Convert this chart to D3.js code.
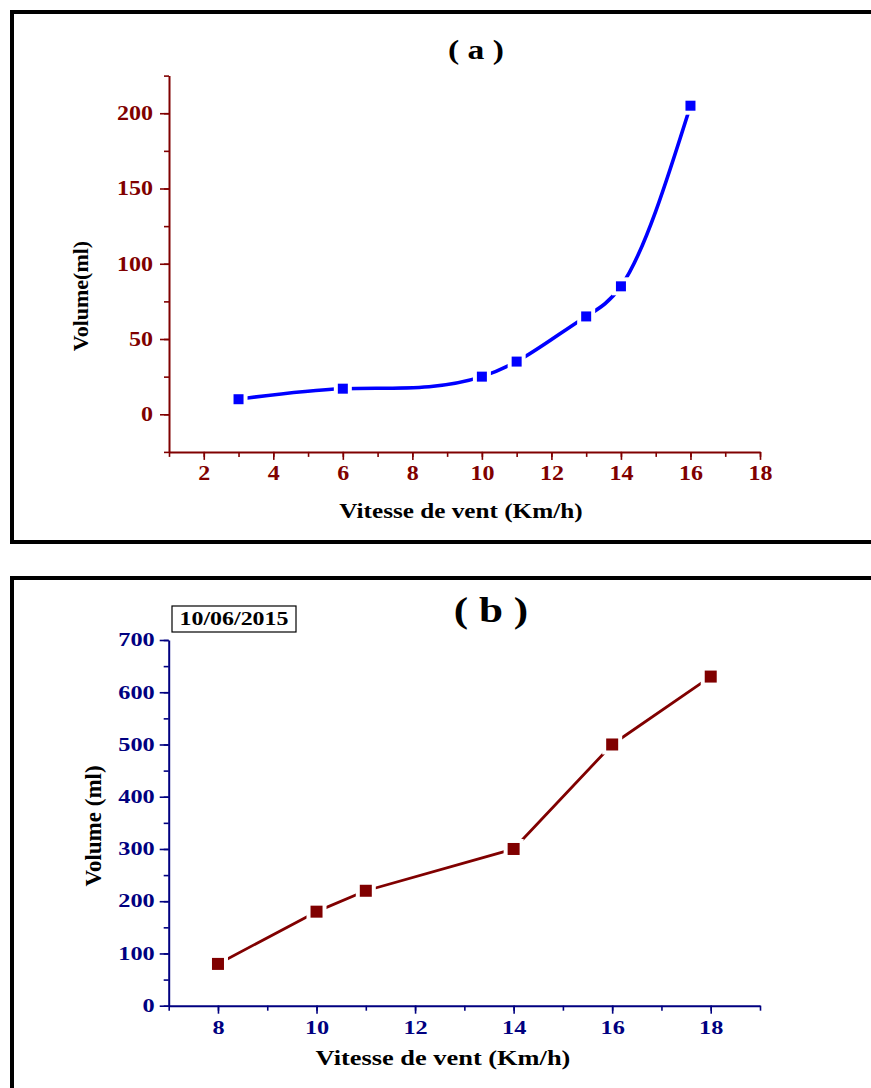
<!DOCTYPE html>
<html>
<head>
<meta charset="utf-8">
<script src="https://cdn.jsdelivr.net/npm/d3@7"></script>
<style>
  html, body { margin: 0; padding: 0; background: #fff; }
  svg { display: block; }
</style>
</head>
<body>
<svg id="fig" width="871" height="1088"></svg>
<script>
// Panel (a): volume vs wind speed, smooth curve
const aSpeed  = [3, 6, 10, 11, 13, 14, 16];
const aVolume = [10, 17, 25, 35, 65, 85, 205];
const aXTicks = [2, 4, 6, 8, 10, 12, 14, 16, 18];
const aYTicks = [0, 50, 100, 150, 200];

// Panel (b): volume vs wind speed, 10/06/2015
const bSpeed  = [8, 10, 11, 14, 16, 18];
const bVolume = [80, 180, 220, 300, 500, 630];
const bXTicks = [8, 10, 12, 14, 16, 18];
const bYTicks = [0, 100, 200, 300, 400, 500, 600, 700];

const FONT = "'Liberation Serif', 'Times New Roman', serif";
const svg = d3.select("#fig");

// natural cubic spline in data space (x as the parameter), emitted as Bezier segments
function splinePath(xs, ys, sx, sy) {
  const n = xs.length - 1;
  const h = d3.range(n).map(i => xs[i + 1] - xs[i]);
  const M = new Array(n + 1).fill(0);
  if (n > 1) {
    const a = [], b = [], c = [], d = [];
    for (let i = 1; i < n; i++) {
      a.push(h[i - 1]); b.push(2 * (h[i - 1] + h[i])); c.push(h[i]);
      d.push(6 * ((ys[i + 1] - ys[i]) / h[i] - (ys[i] - ys[i - 1]) / h[i - 1]));
    }
    const m = b.length;
    for (let i = 1; i < m; i++) {
      const w = a[i] / b[i - 1];
      b[i] -= w * c[i - 1]; d[i] -= w * d[i - 1];
    }
    const sol = new Array(m);
    sol[m - 1] = d[m - 1] / b[m - 1];
    for (let i = m - 2; i >= 0; i--) sol[i] = (d[i] - c[i] * sol[i + 1]) / b[i];
    for (let i = 0; i < m; i++) M[i + 1] = sol[i];
  }
  const p = d3.path();
  p.moveTo(sx(xs[0]), sy(ys[0]));
  for (let i = 0; i < n; i++) {
    const s = (ys[i + 1] - ys[i]) / h[i];
    const m0 = s - h[i] * (2 * M[i] + M[i + 1]) / 6;
    const m1 = s + h[i] * (M[i] + 2 * M[i + 1]) / 6;
    const t = h[i] / 3;
    p.bezierCurveTo(
      sx(xs[i] + t), sy(ys[i] + m0 * t),
      sx(xs[i + 1] - t), sy(ys[i + 1] - m1 * t),
      sx(xs[i + 1]), sy(ys[i + 1]));
  }
  return p.toString();
}

// text drawn with a horizontal stretch factor sx
function label(g, x, y, str, o) {
  const sx = o.sx || 1;
  return g.append("text")
    .attr("x", x / sx).attr("y", y)
    .attr("transform", `scale(${sx},1)`)
    .attr("font-family", FONT).attr("font-weight", "bold")
    .attr("font-size", o.size).attr("fill", o.fill || "#000")
    .attr("text-anchor", o.anchor || "middle")
    .attr("dominant-baseline", "central")
    .text(str);
}

function vlabel(g, x, y, str, o) {
  g.append("text")
    .attr("transform", `translate(${x},${y}) rotate(-90) scale(1,${o.sy || 1})`)
    .attr("font-family", FONT).attr("font-weight", "bold")
    .attr("font-size", o.size).attr("fill", "#000")
    .attr("text-anchor", "middle").attr("dominant-baseline", "central")
    .text(str);
}

function axes(g, x, y, o) {
  const [x0, x1] = x.domain();
  const [y0, y1] = y.domain();
  const xMinor = d3.range(x0, x1 + 0.001, o.xMinorStep);
  const yMinor = d3.range(y0, y1 + 0.001, o.yMinorStep);
  const yBase = y.range()[0], xBase = x.range()[0];

  // minor ticks
  g.append("g").attr("transform", `translate(0,${yBase})`)
    .call(d3.axisBottom(x).tickValues(xMinor).tickSize(5).tickFormat(""))
    .call(s => s.select(".domain").remove())
    .selectAll("line").attr("stroke", o.color).attr("stroke-width", 1.6);
  g.append("g").attr("transform", `translate(${xBase},0)`)
    .call(d3.axisLeft(y).tickValues(yMinor).tickSize(5).tickFormat(""))
    .call(s => s.select(".domain").remove())
    .selectAll("line").attr("stroke", o.color).attr("stroke-width", 1.6);

  // major ticks with labels
  const gx = g.append("g").attr("transform", `translate(0,${yBase})`)
    .call(d3.axisBottom(x).tickValues(o.xTicks).tickSize(8).tickSizeOuter(0).tickPadding(o.xPad));
  gx.select(".domain").attr("stroke", o.color).attr("stroke-width", 2);
  gx.selectAll("line").attr("stroke", o.color).attr("stroke-width", 1.6);
  gx.selectAll("text")
    .attr("font-family", FONT).attr("font-weight", "bold")
    .attr("font-size", o.tickSize).attr("fill", o.color)
    .attr("transform", `scale(${o.sx},1)`);

  const gy = g.append("g").attr("transform", `translate(${xBase},0)`)
    .call(d3.axisLeft(y).tickValues(o.yTicks).tickSize(9).tickSizeOuter(0).tickPadding(o.yPad));
  gy.select(".domain").attr("stroke", o.color).attr("stroke-width", 2);
  gy.selectAll("line").attr("stroke", o.color).attr("stroke-width", 1.6);
  gy.selectAll("text")
    .attr("font-family", FONT).attr("font-weight", "bold")
    .attr("font-size", o.tickSize).attr("fill", o.color)
    .attr("x", -(9 + o.yPad) / o.sx)
    .attr("transform", `scale(${o.sx},1)`);
}

function series(g, x, y, xs, ys, o) {
  const pts = xs.map((v, i) => [x(v), y(ys[i])]);
  const d = o.smooth ? splinePath(xs, ys, x, y) : d3.line()(pts);
  g.append("path")
    .attr("d", d)
    .attr("fill", "none").attr("stroke", o.color)
    .attr("stroke-width", o.width).attr("stroke-linejoin", "round");
  // white halo opens a gap in the line around each symbol
  g.selectAll(null).data(pts).join("rect")
    .attr("x", p => p[0] - o.size / 2 - o.gap).attr("y", p => p[1] - o.size / 2 - o.gap)
    .attr("width", o.size + 2 * o.gap).attr("height", o.size + 2 * o.gap)
    .attr("fill", "#fff");
  g.selectAll(null).data(pts).join("rect")
    .attr("x", p => p[0] - o.size / 2).attr("y", p => p[1] - o.size / 2)
    .attr("width", o.size).attr("height", o.size)
    .attr("fill", o.color);
}

// ---------- panel (a) ----------
const pa = svg.append("g");
pa.append("rect").attr("x", 12).attr("y", 12).attr("width", 900).attr("height", 530)
  .attr("fill", "none").attr("stroke", "#000").attr("stroke-width", 4);

const ax = d3.scaleLinear().domain([1, 18]).range([169, 760]);
const ay = d3.scaleLinear().domain([-25, 225]).range([451.9, 75.6]);
axes(pa, ax, ay, {
  color: "#800000", xTicks: aXTicks, yTicks: aYTicks,
  xMinorStep: 1, yMinorStep: 25, tickSize: 20, sx: 1.2, xPad: 6, yPad: 7
});
series(pa, ax, ay, aSpeed, aVolume, {
  color: "#0000ff", width: 3.6, size: 10, gap: 4, smooth: true
});
label(pa, 476, 50, "( a )", { size: 28, sx: 1.2 });
label(pa, 461, 511, "Vitesse de vent (Km/h)", { size: 21, sx: 1.2 });
vlabel(pa, 80, 296, "Volume(ml)", { size: 22 });

// ---------- panel (b) ----------
const pb = svg.append("g");
pb.append("rect").attr("x", 12).attr("y", 578).attr("width", 900).attr("height", 600)
  .attr("fill", "none").attr("stroke", "#000").attr("stroke-width", 4);

const bx = d3.scaleLinear().domain([7, 19]).range([168.7, 760]);
const by = d3.scaleLinear().domain([0, 700]).range([1005.7, 640]);
axes(pb, bx, by, {
  color: "#000080", xTicks: bXTicks, yTicks: bYTicks,
  xMinorStep: 1, yMinorStep: 50, tickSize: 18, sx: 1.35, xPad: 8, yPad: 5
});
series(pb, bx, by, bSpeed, bVolume, {
  color: "#800000", width: 2.8, size: 12, gap: 4, smooth: false
});
label(pb, 491, 610, "( b )", { size: 36, sx: 1.2 });
label(pb, 443, 1058, "Vitesse de vent (Km/h)", { size: 20, sx: 1.32 });
vlabel(pb, 93, 826, "Volume (ml)", { size: 23 });

// date box
pb.append("rect").attr("x", 172).attr("y", 606).attr("width", 124).attr("height", 26)
  .attr("fill", "#fff").attr("stroke", "#000").attr("stroke-width", 1.2);
label(pb, 234, 619.5, "10/06/2015", { size: 18, sx: 1.33 });
</script>
</body>
</html>
